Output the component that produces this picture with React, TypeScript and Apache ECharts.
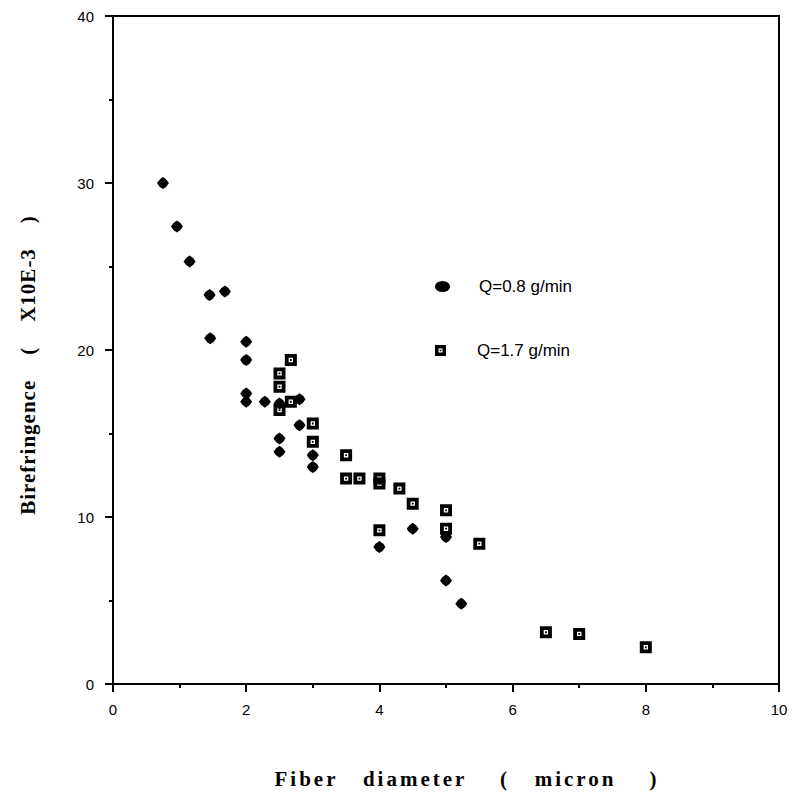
import React, { useEffect, useRef } from "react";
import * as echarts from "echarts";

const xTicks = [0, 2, 4, 6, 8, 10];
const yTicks = [0, 10, 20, 30, 40];

const seriesNames = ["Q=0.8 g/min", "Q=1.7 g/min"];

const lowX = [0.75, 0.96, 1.15, 1.45, 1.68, 1.46, 2.0, 2.0, 2.0, 2.0, 2.28, 2.5, 2.8, 2.8, 2.5, 2.5, 3.0, 3.0, 4.0, 4.5, 5.0, 5.0, 5.23];
const lowY = [30.0, 27.4, 25.3, 23.3, 23.5, 20.7, 20.5, 19.4, 17.4, 16.9, 16.9, 16.8, 17.05, 15.5, 14.7, 13.9, 13.7, 13.0, 8.2, 9.3, 8.8, 6.2, 4.8];

const highX = [2.67, 2.5, 2.5, 2.67, 2.5, 3.0, 3.0, 3.5, 3.5, 3.7, 4.0, 4.0, 4.3, 4.5, 5.0, 4.0, 5.0, 5.5, 6.5, 7.0, 8.0];
const highY = [19.4, 18.6, 17.8, 16.9, 16.4, 15.6, 14.5, 13.7, 12.3, 12.3, 12.3, 12.0, 11.7, 10.8, 10.4, 9.2, 9.3, 8.4, 3.1, 3.0, 2.2];

const xTitle = "Fiber   diameter    (   micron    )";
const yTitle = "Birefringence    (    X10E-3    )";

const diamondPath = "path://M6,0 Q10,2 12,6 Q10,10 6,12 Q2,10 0,6 Q2,2 6,0 Z";
const squarePath =
  "path://M0,0 H12 V12 H0 Z M3.8,3.8 V8.2 H8.2 V3.8 Z M5.1,5.1 H6.9 V6.9 H5.1 Z";
const ellipsePath = "path://M0,5.5 A7.5,5.5 0 1,0 15,5.5 A7.5,5.5 0 1,0 0,5.5 Z";

export default function App() {
  const ref = useRef<HTMLDivElement>(null);
  useEffect(() => {
    if (!ref.current) return;
    const chart = echarts.init(ref.current, undefined, { renderer: "svg" });
    const lowData = lowX.map((x, i) => [x, lowY[i]]);
    const highData = highX.map((x, i) => [x, highY[i]]);
    const legendText = {
      color: "#000",
      fontFamily: "Liberation Sans, Arial, sans-serif",
      fontSize: 17,
      padding: [0, 0, 0, 24],
    };
    const titleFont = "bold 21px 'Liberation Serif', 'Times New Roman', serif";
    chart.setOption({
      animation: false,
      backgroundColor: "#fff",
      grid: {
        left: 113,
        right: 17,
        top: 16,
        bottom: 121,
        show: true,
        borderColor: "#000",
        borderWidth: 2,
        backgroundColor: "transparent",
      },
      xAxis: {
        type: "value",
        min: 0,
        max: 10,
        interval: 2,
        axisLine: { show: true, onZero: false, lineStyle: { color: "#000", width: 2 } },
        axisTick: { show: true, inside: false, length: 8, lineStyle: { color: "#000", width: 2 } },
        minorTick: { show: true, splitNumber: 2, length: 4, lineStyle: { color: "#000", width: 2 } },
        splitLine: { show: false },
        minorSplitLine: { show: false },
        axisLabel: {
          color: "#000",
          fontFamily: "Liberation Sans, Arial, sans-serif",
          fontSize: 15,
          margin: 18,
          formatter: (v: number) => (xTicks.includes(v) ? String(v) : ""),
        },
      },
      yAxis: {
        type: "value",
        min: 0,
        max: 40,
        interval: 10,
        axisLine: { show: true, onZero: false, lineStyle: { color: "#000", width: 2 } },
        axisTick: { show: true, inside: false, length: 8, lineStyle: { color: "#000", width: 2 } },
        minorTick: { show: true, splitNumber: 2, length: 4, lineStyle: { color: "#000", width: 2 } },
        splitLine: { show: false },
        minorSplitLine: { show: false },
        axisLabel: {
          color: "#000",
          fontFamily: "Liberation Sans, Arial, sans-serif",
          fontSize: 15,
          margin: 19,
          formatter: (v: number) => (yTicks.includes(v) ? String(v) : ""),
        },
      },
      legend: [
        {
          data: [{ name: seriesNames[0], icon: ellipsePath }],
          orient: "vertical",
          left: 435,
          top: 278,
          padding: 0,
          itemWidth: 15,
          itemHeight: 11,
          symbolKeepAspect: true,
          selectedMode: false,
          textStyle: legendText,
        },
        {
          data: [{ name: seriesNames[1], icon: squarePath }],
          orient: "vertical",
          left: 435,
          top: 342,
          padding: 0,
          itemWidth: 15,
          itemHeight: 11,
          symbolKeepAspect: true,
          selectedMode: false,
          textStyle: legendText,
        },
      ],
      graphic: [
        {
          type: "text",
          x: 467,
          y: 779,
          silent: true,
          style: {
            text: xTitle,
            fill: "#000",
            font: titleFont,
            align: "center",
            verticalAlign: "middle",
          },
        },
        {
          type: "text",
          x: 28,
          y: 365,
          rotation: Math.PI / 2,
          silent: true,
          style: {
            text: yTitle,
            fill: "#000",
            font: titleFont,
            align: "center",
            verticalAlign: "middle",
          },
        },
      ],
      series: [
        {
          name: seriesNames[0],
          type: "scatter",
          data: lowData,
          symbol: diamondPath,
          symbolSize: 12,
          itemStyle: { color: "#000", opacity: 1 },
          emphasis: { disabled: true },
          z: 3,
        },
        {
          name: seriesNames[1],
          type: "scatter",
          data: highData,
          symbol: squarePath,
          symbolSize: 12,
          itemStyle: { color: "#000", opacity: 1 },
          emphasis: { disabled: true },
          z: 2,
        },
      ],
    });
    // spaced-out lettering of the original axis titles
    ref.current.querySelectorAll("text").forEach((el) => {
      const t = el.textContent || "";
      if (t.startsWith("Fiber")) el.setAttribute("letter-spacing", "3");
      if (t.startsWith("Birefringence")) el.setAttribute("letter-spacing", "1");
    });
    return () => chart.dispose();
  }, []);
  return <div ref={ref} style={{ width: 796, height: 805, position: "absolute", left: 0, top: 0 }} />;
}
